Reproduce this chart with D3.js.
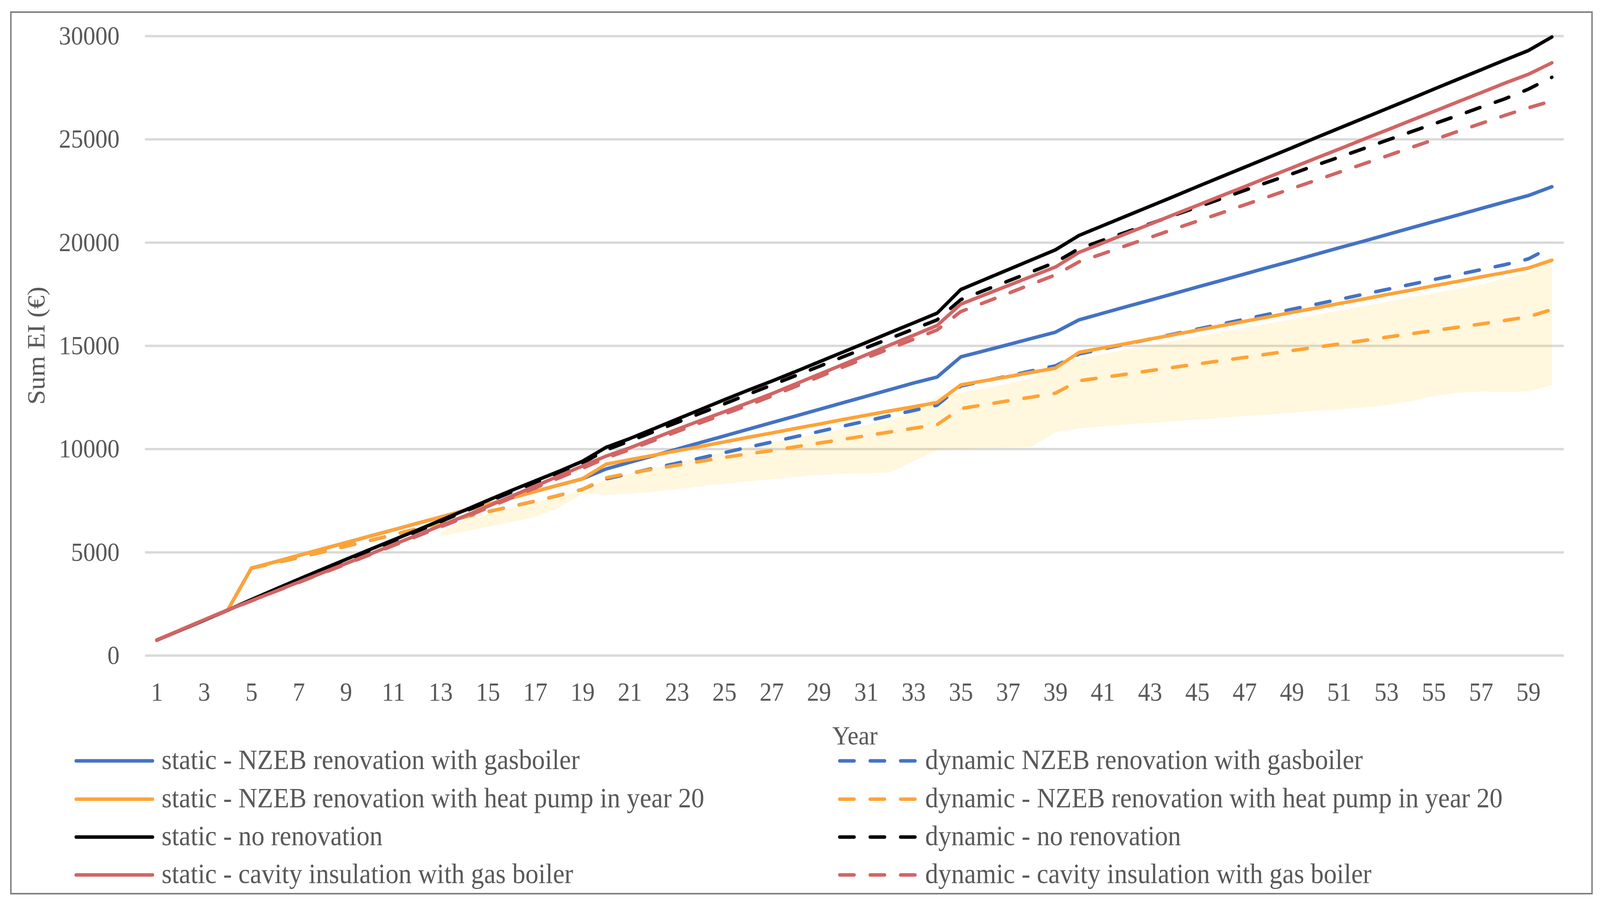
<!DOCTYPE html>
<html>
<head>
<meta charset="utf-8">
<script src="https://cdnjs.cloudflare.com/ajax/libs/d3/7.8.5/d3.min.js"></script>
<style>
  html, body { margin: 0; padding: 0; background: #ffffff; overflow: hidden; }
  svg { display: block; width: 100vw; height: 100vh; }
</style>
</head>
<body>
<div class="chart"></div>
<script>
var totalWidth = 4415;
var totalHeight = 2317;

var margin = {
  top: 92,
  left: 400,
  bottom: 639,
  right: 100
};

var width = totalWidth - margin.left - margin.right;
var height = totalHeight - margin.top - margin.bottom;

var fontFamily = '"Liberation Serif", "Times New Roman", serif';
var textColor = "#595959";

// DATA STUFF

var years = [1, 2, 3, 4, 5, 6, 7, 8, 9, 10, 11, 12, 13, 14, 15, 16, 17, 18, 19, 20,
  21, 22, 23, 24, 25, 26, 27, 28, 29, 30, 31, 32, 33, 34, 35, 36, 37, 38, 39, 40,
  41, 42, 43, 44, 45, 46, 47, 48, 49, 50, 51, 52, 53, 54, 55, 56, 57, 58, 59, 60];

var xTickLabels = [1, 3, 5, 7, 9, 11, 13, 15, 17, 19, 21, 23, 25, 27, 29, 31, 33, 35, 37, 39,
  41, 43, 45, 47, 49, 51, 53, 55, 57, 59];

var yTicks = [0, 5000, 10000, 15000, 20000, 25000, 30000];

var staticGasboiler = [740, 1230, 1720, 2200, 4225, 4530, 4840, 5150, 5460, 5770,
  6080, 6390, 6700, 7010, 7320, 7630, 7940, 8250, 8554, 9030,
  9350, 9670, 9990, 10310, 10630, 10950, 11270, 11590, 11910, 12230,
  12550, 12870, 13190, 13480, 14457, 14750, 15050, 15350, 15652, 16250,
  16570, 16890, 17200, 17520, 17840, 18150, 18470, 18790, 19100, 19420,
  19740, 20050, 20370, 20690, 21010, 21320, 21640, 21960, 22270, 22700];

var dynamicGasboiler = [740, 1230, 1720, 2200, 4225, 4480, 4740, 5010, 5290, 5560,
  5840, 6130, 6410, 6700, 6960, 7210, 7470, 7750, 8040, 8550,
  8800, 9060, 9310, 9560, 9820, 10080, 10330, 10590, 10840, 11100,
  11350, 11610, 11860, 12120, 13043, 13290, 13530, 13780, 14022, 14600,
  14840, 15080, 15320, 15560, 15800, 16040, 16280, 16520, 16760, 17000,
  17240, 17480, 17720, 17960, 18200, 18440, 18680, 18920, 19200, 19800];

var staticHeatPump = [740, 1230, 1720, 2200, 4225, 4530, 4840, 5150, 5460, 5770,
  6080, 6390, 6700, 7010, 7320, 7630, 7940, 8250, 8554, 9261,
  9480, 9690, 9910, 10120, 10340, 10560, 10770, 10990, 11200, 11420,
  11630, 11840, 12040, 12250, 13098, 13300, 13500, 13710, 13913, 14674,
  14890, 15100, 15320, 15530, 15750, 15960, 16180, 16390, 16610, 16820,
  17040, 17250, 17470, 17680, 17900, 18110, 18330, 18540, 18760, 19140];

var dynamicHeatPump = [740, 1230, 1720, 2200, 4225, 4480, 4740, 5010, 5290, 5560,
  5840, 6130, 6410, 6700, 6960, 7210, 7470, 7750, 8040, 8600,
  8830, 9020, 9210, 9400, 9590, 9760, 9920, 10100, 10280, 10460,
  10640, 10820, 11000, 11175, 11956, 12140, 12330, 12510, 12700, 13300,
  13460, 13620, 13790, 13950, 14110, 14270, 14430, 14600, 14760, 14920,
  15080, 15240, 15410, 15570, 15730, 15890, 16050, 16220, 16400, 16750];

var staticNoRenovation = [740, 1220, 1700, 2190, 2700, 3200, 3690, 4170, 4650, 5120,
  5590, 6060, 6540, 7020, 7510, 7990, 8450, 8910, 9400, 10076,
  10500, 10967, 11440, 11910, 12380, 12840, 13280, 13740, 14210, 14680,
  15150, 15630, 16100, 16576, 17718, 18200, 18680, 19160, 19639, 20337,
  20810, 21280, 21750, 22220, 22700, 23170, 23640, 24110, 24580, 25060,
  25530, 26000, 26470, 26940, 27420, 27890, 28360, 28830, 29290, 29950];

var dynamicNoRenovation = [740, 1220, 1700, 2190, 2680, 3170, 3650, 4130, 4600, 5070,
  5540, 6010, 6480, 6960, 7440, 7910, 8370, 8830, 9310, 9950,
  10380, 10830, 11280, 11730, 12180, 12640, 13090, 13540, 13990, 14450,
  14900, 15350, 15800, 16250, 17228, 17680, 18130, 18580, 19036, 19700,
  20100, 20500, 20900, 21310, 21710, 22110, 22520, 22920, 23320, 23730,
  24130, 24530, 24940, 25340, 25740, 26140, 26550, 26950, 27420, 28000];

var staticCavity = [740, 1230, 1720, 2200, 2650, 3100, 3550, 4000, 4450, 4900,
  5360, 5820, 6280, 6740, 7220, 7710, 8200, 8690, 9170, 9650,
  10050, 10500, 10950, 11380, 11800, 12230, 12670, 13140, 13610, 14080,
  14555, 15030, 15500, 15978, 17011, 17460, 17910, 18360, 18805, 19518,
  19970, 20430, 20880, 21340, 21790, 22250, 22700, 23160, 23610, 24070,
  24520, 24980, 25430, 25890, 26340, 26800, 27250, 27710, 28140, 28700];

var dynamicCavity = [740, 1230, 1710, 2190, 2640, 3090, 3530, 3980, 4420, 4870,
  5320, 5770, 6220, 6680, 7150, 7630, 8110, 8590, 9060, 9560,
  9970, 10400, 10840, 11270, 11690, 12110, 12560, 13020, 13490, 13960,
  14410, 14860, 15310, 15761, 16652, 17090, 17530, 17980, 18424, 19060,
  19450, 19850, 20240, 20640, 21030, 21420, 21820, 22210, 22610, 23000,
  23400, 23790, 24180, 24580, 24970, 25370, 25760, 26150, 26520, 26850];

// shaded range behind the heat pump lines (year 13 to 60)
var bandYears = [13, 14, 15, 16, 17, 18, 19, 20, 21, 22, 23, 24, 25, 26, 27, 28,
  29, 30, 31, 32, 33, 34, 35, 36, 37, 38, 39, 40, 41, 42, 43, 44,
  45, 46, 47, 48, 49, 50, 51, 52, 53, 54, 55, 56, 57, 58, 59, 60];

var bandLow = [5780, 6000, 6230, 6460, 6700, 7150, 7820, 7800, 7810, 7930, 8060, 8190, 8310, 8420, 8530, 8640,
  8740, 8800, 8830, 8860, 9400, 9950, 9990, 10030, 10070, 10110, 10800, 10990, 11100, 11180, 11260, 11340,
  11420, 11500, 11590, 11670, 11750, 11840, 11920, 12000, 12120, 12300, 12560, 12720, 12780, 12760, 12780, 13090];

var bandHigh = [5950, 6550, 6850, 7130, 7400, 7680, 8000, 8550, 8810, 9070, 9330, 9590, 9850, 10100, 10310, 10530,
  10750, 10970, 11170, 11400, 11750, 12550, 12720, 12930, 13150, 13450, 14000, 14400, 14600, 14810, 15020, 15230,
  15440, 15650, 15860, 16070, 16280, 16490, 16700, 16910, 17120, 17330, 17540, 17750, 17960, 18250, 18550, 19070];

// legend order is row by row: static left, dynamic right
var series = [
  { name: "static - NZEB renovation with gasboiler", values: staticGasboiler, color: "#4472C4", dashed: false },
  { name: "dynamic NZEB renovation with gasboiler", values: dynamicGasboiler, color: "#4472C4", dashed: true },
  { name: "static - NZEB renovation with heat pump in year 20", values: staticHeatPump, color: "#FFA336", dashed: false },
  { name: "dynamic - NZEB renovation with heat pump in year 20", values: dynamicHeatPump, color: "#FFA336", dashed: true },
  { name: "static - no renovation", values: staticNoRenovation, color: "#000000", dashed: false },
  { name: "dynamic - no renovation", values: dynamicNoRenovation, color: "#000000", dashed: true },
  { name: "static - cavity insulation with gas boiler", values: staticCavity, color: "#D26464", dashed: false },
  { name: "dynamic - cavity insulation with gas boiler", values: dynamicCavity, color: "#D26464", dashed: true }
];

var lineWidth = 9;
var dashPattern = "40,44";

// X SCALE
var xScale = d3
  .scalePoint()
  .domain(years)
  .range([0, width])
  .padding(0.5);

// Y SCALE
var yScale = d3
  .scaleLinear()
  .domain([0, 30000])
  .range([height, 0]);

var xAxis = d3
  .axisBottom(xScale)
  .tickValues(xTickLabels)
  .tickSize(0)
  .tickPadding(68);

var yAxis = d3
  .axisLeft(yScale)
  .tickValues(yTicks)
  .tickFormat(d3.format("d"))
  .tickSizeInner(-width)
  .tickSizeOuter(0)
  .tickPadding(70);

// SVG GROUP HIERARCHY
// the drawing is laid out at 4415x2317 and stretched to whatever window it gets

var svg = d3
  .select(".chart")
  .append("svg")
  .attr("viewBox", "0 0 " + totalWidth + " " + totalHeight)
  .attr("preserveAspectRatio", "none")
  .style("background-color", "#ffffff");

svg
  .append("rect")
  .attr("x", 30)
  .attr("y", 31)
  .attr("width", 4363)
  .attr("height", 2257)
  .attr("fill", "none")
  .attr("stroke", "#808080")
  .attr("stroke-width", 4);

var mainGroup = svg
  .append("g")
  .attr("transform", "translate(" + margin.left + "," + margin.top + ")");

mainGroup
  .append("g")
  .attr("class", "axis")
  .call(function customYAxis(g) {
    g.call(yAxis);
    g.select(".domain").remove();
    g.selectAll(".tick line")
      .attr("stroke", "#D9D9D9")
      .attr("stroke-width", 6);
    g.selectAll(".tick text")
      .attr("fill", textColor)
      .attr("font-family", fontFamily)
      .attr("font-size", 67);
  });

mainGroup
  .append("g")
  .attr("class", "axis")
  .attr("transform", "translate(0," + height + ")")
  .call(function customXAxis(g) {
    g.call(xAxis);
    g.select(".domain").remove();
    g.selectAll(".tick text")
      .attr("fill", textColor)
      .attr("font-family", fontFamily)
      .attr("font-size", 67);
  });

// shaded band
var band = d3
  .area()
  .x(function(d, i) { return xScale(bandYears[i]); })
  .y0(function(d, i) { return yScale(bandLow[i]); })
  .y1(function(d, i) { return yScale(bandHigh[i]); });

mainGroup
  .append("path")
  .datum(bandLow)
  .attr("d", band)
  .attr("fill", "#FFC000")
  .attr("fill-opacity", 0.13);

var line = d3
  .line()
  .x(function(d, i) { return xScale(years[i]); })
  .y(function(d) { return yScale(d); });

mainGroup
  .selectAll(".series")
  .data(series)
  .enter()
  .append("path")
  .attr("class", "series")
  .attr("d", function(d) { return line(d.values); })
  .attr("fill", "none")
  .attr("stroke", function(d) { return d.color; })
  .attr("stroke-width", lineWidth)
  .attr("stroke-linecap", "round")
  .attr("stroke-linejoin", "round")
  .attr("stroke-dasharray", function(d) { return d.dashed ? dashPattern : null; });

// AXIS TITLES
svg
  .append("text")
  .attr("transform", "translate(123," + (margin.top + height / 2) + ") rotate(-90)")
  .attr("text-anchor", "middle")
  .attr("font-family", fontFamily)
  .attr("font-size", 68)
  .attr("fill", textColor)
  .text("Sum EI (€)");

svg
  .append("text")
  .attr("x", 2359)
  .attr("y", 1906)
  .attr("text-anchor", "middle")
  .attr("font-family", fontFamily)
  .attr("font-size", 68)
  .attr("fill", textColor)
  .text("Year");

// LEGEND
var legendRows = [1948, 2046, 2143, 2240];
var legendCols = [210, 2317];

var legend = svg
  .selectAll(".legend-item")
  .data(series)
  .enter()
  .append("g")
  .attr("class", "legend-item")
  .attr("transform", function(d, i) {
    return "translate(" + legendCols[i % 2] + "," + legendRows[Math.floor(i / 2)] + ")";
  });

legend
  .append("line")
  .attr("x1", 0)
  .attr("x2", 211)
  .attr("stroke", function(d) { return d.color; })
  .attr("stroke-width", lineWidth)
  .attr("stroke-linecap", "round")
  .attr("stroke-dasharray", function(d) { return d.dashed ? dashPattern : null; });

legend
  .append("text")
  .attr("x", 236)
  .attr("y", 21)
  .attr("font-family", fontFamily)
  .attr("font-size", 72)
  .attr("fill", textColor)
  .text(function(d) { return d.name; });
</script>
</body>
</html>
